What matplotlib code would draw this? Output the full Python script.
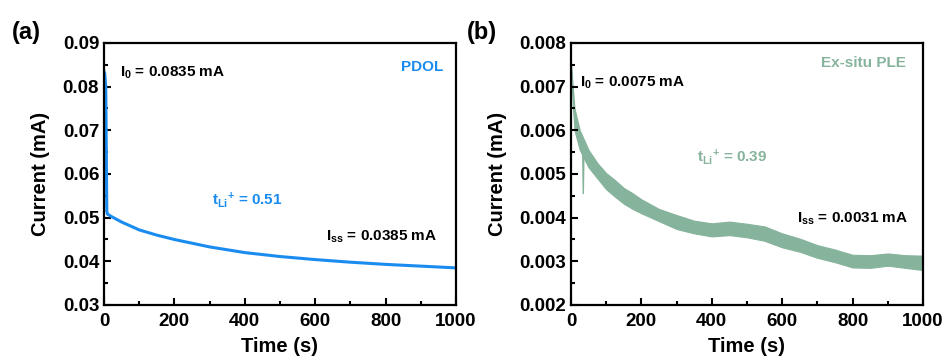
import numpy as np
import matplotlib
matplotlib.use("Agg")
import matplotlib.pyplot as plt
from matplotlib.ticker import MultipleLocator

plt.rcParams['font.family'] = ['Liberation Sans', 'DejaVu Sans']
plt.rcParams['font.weight'] = 'bold'
plt.rcParams['mathtext.fontset'] = 'custom'
plt.rcParams['mathtext.rm'] = 'Liberation Sans:bold'
plt.rcParams['mathtext.it'] = 'Liberation Sans:bold'
plt.rcParams['mathtext.bf'] = 'Liberation Sans:bold'

# (a) PDOL chronoamperometry
t_a = [0, 2, 5, 8, 10, 20, 50, 100, 150, 200, 300, 400, 500, 600, 700, 800, 900, 1000]
i_a = [0.0835, 0.0830, 0.0800, 0.0515, 0.0508, 0.0503, 0.0490, 0.0472, 0.0460, 0.0450,
       0.0433, 0.0420, 0.0411, 0.0404, 0.0398, 0.0393, 0.0389, 0.0385]

# (b) Ex-situ PLE, noisy band (upper / lower edges)
t_b = [0, 5, 10, 25, 50, 75, 100, 125, 150, 175, 200, 250, 300, 350, 400, 450, 500, 550,
       600, 650, 700, 750, 800, 850, 900, 950, 1000]
hi_b = [0.00755, 0.00700, 0.00650, 0.00600, 0.00555, 0.00525, 0.00502, 0.00486, 0.00468,
        0.00456, 0.00442, 0.00420, 0.00406, 0.00393, 0.00387, 0.00391, 0.00386, 0.00380,
        0.00364, 0.00352, 0.00337, 0.00327, 0.00315, 0.00314, 0.00318, 0.00314, 0.00313]
lo_b = [0.00740, 0.00660, 0.00600, 0.00555, 0.00515, 0.00490, 0.00465, 0.00448, 0.00432,
        0.00420, 0.00410, 0.00392, 0.00374, 0.00364, 0.00357, 0.00360, 0.00355, 0.00347,
        0.00332, 0.00322, 0.00308, 0.00298, 0.00286, 0.00285, 0.00290, 0.00285, 0.00280]
spike_t = [33, 35, 37]
spike_i = [0.00560, 0.00455, 0.00560]

blue = '#1a8cf0'
green = '#86b39c'

fig = plt.figure(figsize=(9.48, 3.6), dpi=100)
ax1 = fig.add_axes([0.1097, 0.1528, 0.3713, 0.7278])
ax2 = fig.add_axes([0.6023, 0.1528, 0.3713, 0.7278])

ax1.plot(t_a, i_a, color=blue, lw=2.2)
ax2.fill_between(t_b, lo_b, hi_b, color=green, lw=0.8, edgecolor=green)
ax2.plot(spike_t, spike_i, color=green, lw=1.0)

for ax in (ax1, ax2):
    ax.set_xlim(0, 1000)
    ax.xaxis.set_major_locator(MultipleLocator(200))
    ax.xaxis.set_minor_locator(MultipleLocator(100))
    ax.tick_params(which='both', direction='in', top=False, right=False,
                   width=1.5, labelsize=13.5)
    ax.tick_params(axis='x', pad=6)
    ax.tick_params(which='major', length=5)
    ax.tick_params(which='minor', length=3)
    for s in ax.spines.values():
        s.set_linewidth(1.6)
    ax.set_xlabel('Time (s)', fontsize=14.5, fontweight='bold', labelpad=5)
    ax.set_ylabel('Current (mA)', fontsize=14.5, fontweight='bold', labelpad=9)
    for lb in ax.get_xticklabels() + ax.get_yticklabels():
        lb.set_fontweight('bold')

ax1.set_ylim(0.03, 0.09)
ax1.yaxis.set_major_locator(MultipleLocator(0.01))
ax1.yaxis.set_minor_locator(MultipleLocator(0.005))
ax1.yaxis.set_major_formatter(plt.FormatStrFormatter('%.2f'))

ax2.set_ylim(0.002, 0.008)
ax2.yaxis.set_major_locator(MultipleLocator(0.001))
ax2.yaxis.set_minor_locator(MultipleLocator(0.0005))
ax2.yaxis.set_major_formatter(plt.FormatStrFormatter('%.3f'))

ax1.text(45, 0.0831, r'I$_{0}$ = 0.0835 mA', fontsize=11, va='center')
ax1.text(963, 0.0845, 'PDOL', fontsize=11, color=blue, ha='right', va='center')
ax1.text(306, 0.0540, r't$_{\rm Li}$$^{+}$ = 0.51', fontsize=11, color=blue, va='center')
ax1.text(630, 0.0456, r'I$_{\rm ss}$ = 0.0385 mA', fontsize=11, va='center')

ax2.text(26, 0.00708, r'I$_{0}$ = 0.0075 mA', fontsize=11, va='center')
ax2.text(952, 0.00754, 'Ex-situ PLE', fontsize=11, color=green, ha='right', va='center')
ax2.text(358, 0.00539, r't$_{\rm Li}$$^{+}$ = 0.39', fontsize=11, color=green, va='center')
ax2.text(642, 0.00397, r'I$_{\rm ss}$ = 0.0031 mA', fontsize=11, va='center')

fig.text(0.013, 0.91, '(a)', fontsize=17, fontweight='bold', va='center')
fig.text(0.493, 0.91, '(b)', fontsize=17, fontweight='bold', va='center')

fig.savefig('out.png', dpi=100)
